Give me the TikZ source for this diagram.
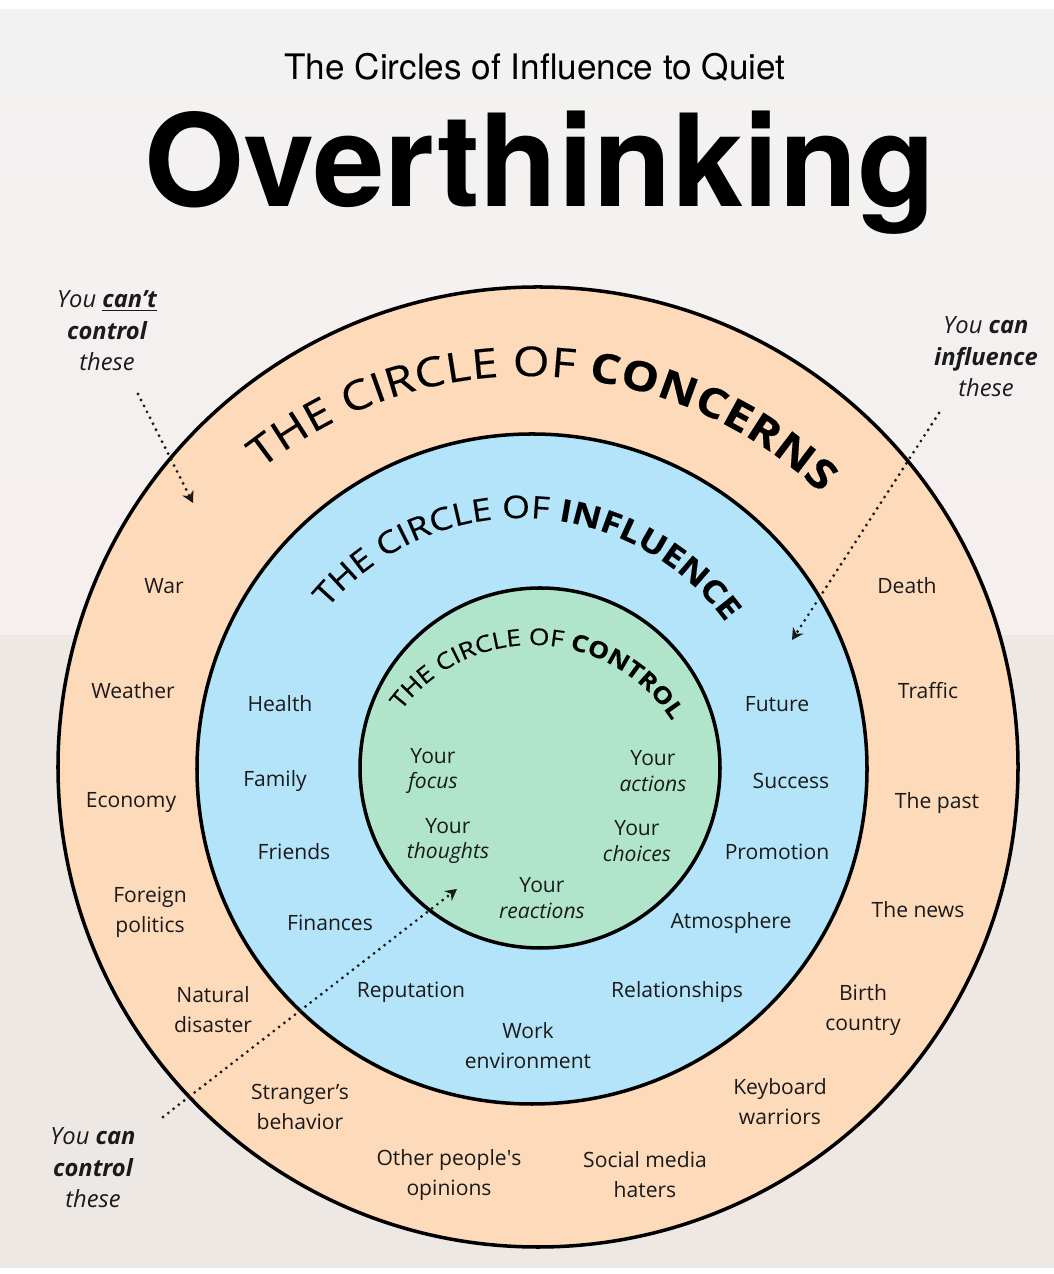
\documentclass[tikz,border=0pt]{standalone}
\usepackage{fontspec}
\setmainfont{Open Sans}
\newfontfamily\headfont{TeX Gyre Heros}
\newfontfamily\arcfont[FakeStretch=1.15,FakeBold=0.4]{Open Sans}
\usepackage{tikz}
\usetikzlibrary{arrows.meta,decorations.text}
\definecolor{concern}{HTML}{FDDABA}
\definecolor{influence}{HTML}{B4E4FA}
\definecolor{control}{HTML}{B0E5CC}
\definecolor{bgtop}{HTML}{F3F2F2}
\definecolor{bgmid}{HTML}{F5EFEE}
\definecolor{bglow}{HTML}{EEE8E4}
\definecolor{ink}{HTML}{1A1A1A}

\begin{document}
\begin{tikzpicture}[x=0.02cm,y=0.02cm,
    ring/.style={draw=black,line width=2pt},
    ringlbl/.style={font=\fontsize{12}{17}\selectfont,align=center,text=ink},
    corelbl/.style={font=\fontsize{12}{14.7}\selectfont,align=center,text=ink},
    notelbl/.style={font=\fontsize{13.5}{18}\selectfont\itshape,align=center,text=ink},
    dotarrow/.style={draw=ink,line width=1.8pt,line cap=round,
        dash pattern=on 0pt off 3.8pt,-{Stealth[length=6.5pt,width=7pt]}}]
\useasboundingbox (0,0) rectangle (1054,1274);
% background
\fill[white] (0,0) rectangle (1054,1274);
\shade[top color=bgtop,bottom color=bgmid] (0,639) rectangle (1054,1264);
\fill[bglow] (0,6) rectangle (1054,639);

% title
\node[font=\headfont\fontsize{20}{24}\selectfont,anchor=base] (subtitle) at (535,1194)
    {The Circles of Influence to Quiet};
\node[font=\headfont\bfseries\fontsize{73}{80}\selectfont,anchor=base] (title) at (540,1067)
    {Overthinking};

% circles
\coordinate (cOut) at (538,507);
\coordinate (cMid) at (532,505);
\coordinate (cIn) at (540,506);
\draw[ring,fill=concern] (cOut) circle[radius=480];
\draw[ring,fill=influence] (cMid) circle[radius=335];
\draw[ring,fill=control] (cIn) circle[radius=180];

% circle titles
\path[decorate,decoration={text along path,text align={fit to path},
    text={|\arcfont\fontsize{23.3}{28}\selectfont|THE CIRCLE OF |\arcfont\fontsize{23.3}{28}\selectfont\bfseries|CONCERNS}}]
    (527,471) ++(128.5:427) arc[start angle=128.5,end angle=46.5,radius=427];
\path[decorate,decoration={text along path,text align={fit to path},
    text={|\arcfont\fontsize{17.7}{22}\selectfont|THE CIRCLE OF |\arcfont\fontsize{17.7}{22}\selectfont\bfseries|INFLUENCE}}]
    (521,503) ++(140:253) arc[start angle=140,end angle=36,radius=253];
\path[decorate,decoration={text along path,text align={fit to path},
    text={|\arcfont\fontsize{13.1}{16}\selectfont|THE CIRCLE OF |\arcfont\fontsize{13.1}{16}\selectfont\bfseries|CONTROL}}]
    (533,464) ++(143:165) arc[start angle=143,end angle=33.5,radius=165];

% circle of concerns
\foreach \txt/\px/\py [count=\i] in {War/164/688, Weather/133/583, Economy/131/471,
    Foreign\\politics/150/362, Natural\\disaster/213/264, Stranger’s\\behavior/300/167,
    Other people\textquotesingle s\\opinions/449/99, Social media\\haters/645/99, Keyboard\\warriors/780/172,
    Birth\\country/863/264, The news/918/364, The past/937/471, Traffic/928/583, Death/907/688}
  \node[ringlbl] (concern\i) at (\px,\py) {\txt};

% circle of influence
\foreach \txt/\px/\py [count=\i] in {Health/280/570, Family/275/493, Friends/294/422,
    Finances/330/351, Reputation/411/282, Work\\environment/528/228, Relationships/677/282,
    Atmosphere/731/351, Promotion/777/422, Success/791/493, Future/777/570}
  \node[ringlbl] (influence\i) at (\px,\py) {\txt};

% circle of control
\foreach \txt/\px/\py [count=\i] in {focus/433/503, actions/653/503, thoughts/448/433,
    choices/637/433, reactions/542/376}
  \node[corelbl] (control\i) at (\px,\py) {Your\\\textit{\txt}};

% side notes
\node[notelbl] (cantnote) at (107,943) {You \textbf{\underline{can’t}}\\\textbf{control}\\these};
\node[notelbl] (infnote) at (986,917) {You \textbf{can}\\\textbf{influence}\\these};
\node[notelbl] (ctrlnote) at (93,106) {You \textbf{can}\\\textbf{control}\\these};

\coordinate (cantA) at (138,880);
\coordinate (cantB) at (193,771);
\coordinate (infA) at (939,861);
\coordinate (infB) at (792,634);
\coordinate (ctrlA) at (163,157);
\coordinate (ctrlB) at (457,385);
\draw[dotarrow] (cantA) -- (cantB);
\draw[dotarrow] (infA) -- (infB);
\draw[dotarrow] (ctrlA) -- (ctrlB);
\end{tikzpicture}
\end{document}
